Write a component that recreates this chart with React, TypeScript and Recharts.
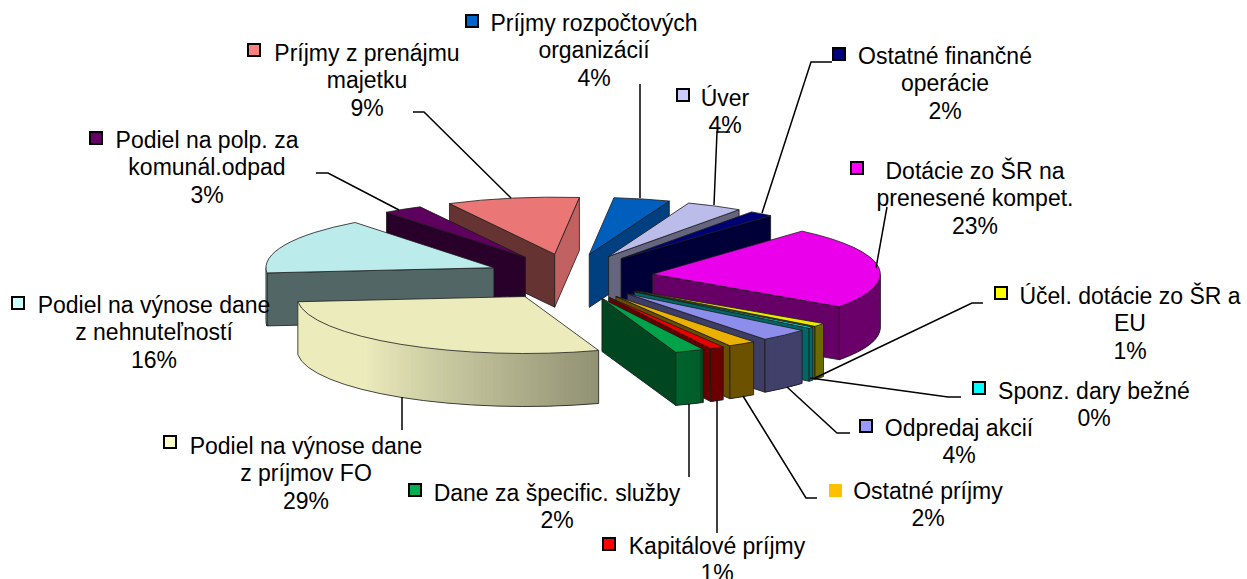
import React from 'react';
import { PieChart, Pie } from 'recharts';

const names = [
  'Dotácie zo ŠR na prenesené kompet.',
  'Účel. dotácie zo ŠR a EU',
  'Sponz. dary bežné',
  'Odpredaj akcií',
  'Ostatné príjmy',
  'Kapitálové príjmy',
  'Dane za špecific. služby',
  'Podiel na výnose dane z príjmov FO',
  'Podiel na výnose dane z nehnuteľností',
  'Podiel na polp. za komunál.odpad',
  'Príjmy z prenájmu majetku',
  'Príjmy rozpočtových organizácií',
  'Úver',
  'Ostatné finančné operácie',
];
const values = [23.4, 1, 0.4, 3.6, 2, 1, 2.1, 28.9, 16.1, 2.8, 9.4, 4, 4, 1.7];
const colors = [
  '#FF00FF', '#FFFF00', '#00FFFF', '#9999FF', '#FFC000', '#FF0000', '#00B050',
  '#FFFFCC', '#CCFFFF', '#660066', '#FF8080', '#0066CC', '#CCCCFF', '#000080',
];

// wrapped label text, the percentage is added from the data
const labelLines = [
  ['Dotácie zo ŠR na', 'prenesené kompet.'],
  ['Účel. dotácie zo ŠR a', 'EU'],
  ['Sponz. dary bežné'],
  ['Odpredaj akcií'],
  ['Ostatné príjmy'],
  ['Kapitálové príjmy'],
  ['Dane za špecific. služby'],
  ['Podiel na výnose dane', 'z príjmov FO'],
  ['Podiel na výnose dane', 'z nehnuteľností'],
  ['Podiel na polp. za', 'komunál.odpad'],
  ['Príjmy z prenájmu', 'majetku'],
  ['Príjmy rozpočtových', 'organizácií'],
  ['Úver'],
  ['Ostatné finančné', 'operácie'],
];

// label placement: text centre x, first baseline, key x, key y
const labelPos = [
  [975, 179, 851, 162],
  [1130, 304, 995, 287],
  [1094, 399, 973, 382],
  [959, 436, 860, 420],
  [928, 499, 829, 484],
  [717, 554, 603, 538],
  [557, 501, 409, 484],
  [306, 454, 164, 436],
  [154, 313, 12, 297],
  [207, 148, 90, 132],
  [367, 61, 248, 44],
  [594, 31, 466, 15],
  [725, 106, 677, 89],
  [945, 64, 833, 48],
];

const leaders: number[][][] = [
  [[887, 207], [876, 268]],
  [[815, 378], [972, 303], [983, 303]],
  [[810, 378], [948, 397], [961, 397]],
  [[787, 387], [837, 433], [850, 433]],
  [[743, 396], [806, 498], [817, 498]],
  [[717, 400], [717, 533]],
  [[689, 404], [689, 477]],
  [[402, 397], [402, 430]],
  [],
  [[316, 173], [328, 173], [399, 210]],
  [[413, 112], [424, 112], [511, 198]],
  [[640, 84], [640, 198]],
  [[730, 132], [717, 132], [714, 205]],
  [[832, 62], [811, 62], [762, 213]],
];

// draw order, back of the pie first
const drawLayers = [[10, 11, 12, 13], [9], [8], [0, 1, 2, 3, 4, 5, 6, 7]];

const tableData = names.map((name, i) => ({ name, value: values[i], fill: colors[i], order: i }));

const W = 1247;
const H = 579;
const CX = 570;
const CY = 277;
const RADIUS = 228;
const TILT = 0.25;
const EXPLODE_TILT = 0.28;
const DEPTH = 53;
const EXPLODE = 83;
const FONT = '"Liberation Sans", Arial, sans-serif';
const LINE_STROKE = '#1a1a1a';

const rad = (deg: number) => (deg * Math.PI) / 180;

const shade = (hex: string, f: number) => {
  const n = parseInt(hex.slice(1), 16);
  const c = [(n >> 16) & 255, (n >> 8) & 255, n & 255].map((v) => Math.round(v * f));
  return `rgb(${c[0]},${c[1]},${c[2]})`;
};

// brightness of a flat cut wall, from the compass direction it faces
const cutShade = (facing: number) => (facing < 135 ? Math.max(0.42, 0.78 - (facing - 94) * 0.0092) : 0.4);
// brightness of the rim
const rimShade = (deg: number) => (deg < 155 ? 0.42 : Math.min(0.92, 0.56 + (deg - 160) * 0.0056));

const makeShape = (layer: number[]) => (props: any) => {
  const { cx, cy, outerRadius, startAngle, endAngle, fill } = props;
  const order = props.order ?? props.payload?.order;
  if (!layer.includes(order)) return <g />;
  // recharts angles to clockwise compass degrees
  const a = 90 - startAngle;
  const b = 90 - endAngle;
  const mid = (a + b) / 2;
  const ox = cx + EXPLODE * Math.sin(rad(mid));
  const oy = cy - EXPLODE * Math.cos(rad(mid)) * EXPLODE_TILT;
  const pt = (deg: number, drop = 0) =>
    `${ox + outerRadius * Math.sin(rad(deg))},${oy - outerRadius * Math.cos(rad(deg)) * TILT + drop}`;
  const arc = (to: number, drop = 0, sweep = 1) => `A${outerRadius} ${outerRadius * TILT} 0 0 ${sweep} ${pt(to, drop)}`;
  const wall = (deg: number) => `M${ox},${oy} L${pt(deg)} L${pt(deg, DEPTH)} L${ox},${oy + DEPTH} Z`;

  const parts: React.ReactNode[] = [];
  const startFacing = (a + 270) % 360;
  const endFacing = (b + 90) % 360;
  if (Math.cos(rad(startFacing)) < 0) {
    parts.push(<path key="s" d={wall(a)} fill={shade(fill, cutShade(startFacing))} stroke={LINE_STROKE} strokeWidth={0.8} />);
  }
  if (Math.cos(rad(endFacing)) < 0) {
    parts.push(<path key="e" d={wall(b)} fill={shade(fill, cutShade(endFacing))} stroke={LINE_STROKE} strokeWidth={0.8} />);
  }
  const r0 = Math.max(a, 90);
  const r1 = Math.min(b, 270);
  if (r1 > r0) {
    const n = Math.max(1, Math.ceil(r1 - r0));
    for (let i = 0; i < n; i++) {
      const d0 = r0 + ((r1 - r0) * i) / n;
      const d1 = Math.min(r1, r0 + ((r1 - r0) * (i + 1)) / n + 1.5);
      const col = shade(fill, rimShade(r0 + ((r1 - r0) * (i + 0.5)) / n));
      parts.push(<path key={`r${i}`} d={`M${pt(d0)} ${arc(d1)} L${pt(d1, DEPTH)} ${arc(d0, DEPTH, 0)} Z`} fill={col} />);
    }
    parts.push(
      <path key="ro" d={`M${pt(r0)} L${pt(r0, DEPTH)} ${arc(r1, DEPTH)} L${pt(r1)}`} fill="none" stroke={LINE_STROKE} strokeWidth={0.8} />,
    );
  }
  parts.push(
    <path key="t" d={`M${ox},${oy} L${pt(a)} ${arc(b)} Z`} fill={shade(fill, 0.92)} stroke={LINE_STROKE} strokeWidth={0.8} strokeLinejoin="round" />,
  );
  return <g>{parts}</g>;
};

const renderLabel = (props: any) => {
  const i = props.order ?? props.payload?.order;
  const [tx, ty, kx, ky] = labelPos[i];
  const pct = `${Math.round(props.value)}%`;
  const lines = [...labelLines[i], pct];
  const path = leaders[i];
  return (
    <g key={i}>
      {path.length > 0 && (
        <polyline points={path.map((p) => p.join(',')).join(' ')} fill="none" stroke="#000" strokeWidth={1.5} />
      )}
      <rect
        x={kx}
        y={ky}
        width={i === 4 ? 13 : 12}
        height={i === 4 ? 13 : 12}
        fill={props.fill}
        stroke={i === 4 ? 'none' : '#000'}
        strokeWidth={i === 4 ? 0 : 2}
      />
      {lines.map((line, n) => (
        <text key={n} x={tx} y={ty + n * 27.3} textAnchor="middle" fontFamily={FONT} fontSize={23} fill="#000">
          {line}
        </text>
      ))}
    </g>
  );
};

export default function App() {
  return (
    <div style={{ position: 'absolute', left: 0, top: 0, width: W, height: H, background: '#fff' }}>
      <PieChart width={W} height={H} margin={{ top: 0, right: 0, bottom: 0, left: 0 }}>
        {drawLayers.map((layer, i) => (
          <Pie
            key={i}
            data={tableData}
            dataKey="value"
            nameKey="name"
            cx={CX}
            cy={CY}
            outerRadius={RADIUS}
            startAngle={49}
            endAngle={-311}
            stroke="none"
            shape={makeShape(layer)}
            label={false}
            labelLine={false}
            isAnimationActive={false}
          />
        ))}
        <Pie
          data={tableData}
          dataKey="value"
          nameKey="name"
          cx={CX}
          cy={CY}
          outerRadius={RADIUS}
          startAngle={49}
          endAngle={-311}
          stroke="none"
          shape={makeShape([])}
          label={renderLabel}
          labelLine={false}
          isAnimationActive={false}
        />
      </PieChart>
    </div>
  );
}
